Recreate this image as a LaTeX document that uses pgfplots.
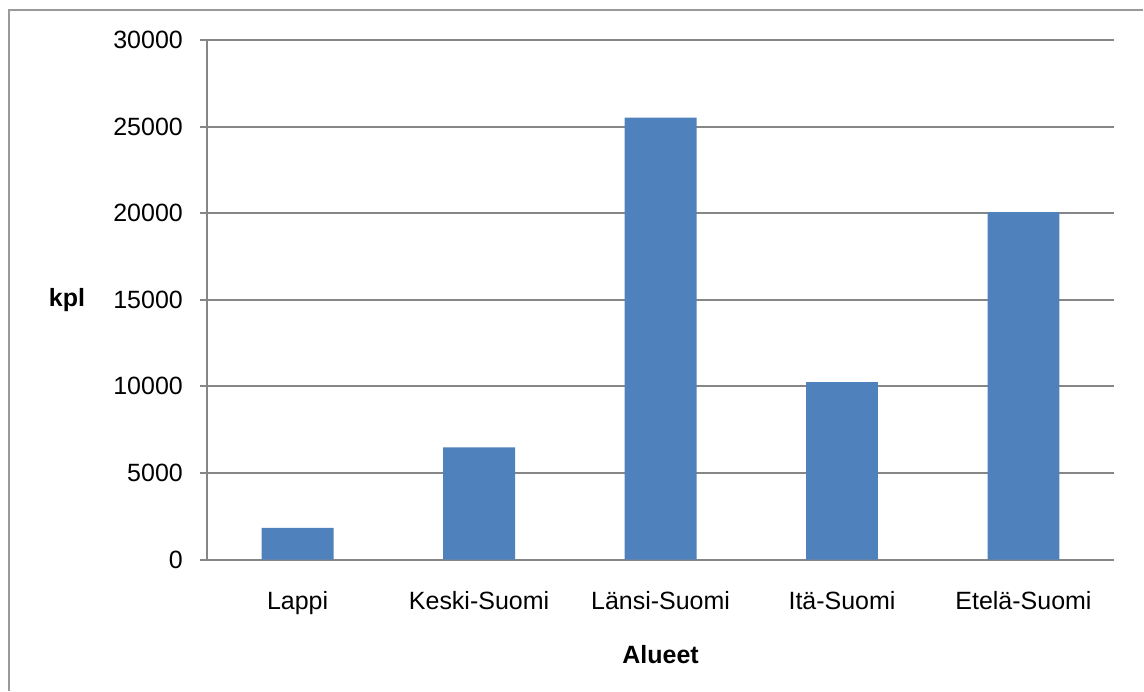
\documentclass[border=0pt]{standalone}
\usepackage{pgfplots}
\pgfplotsset{compat=1.18}
\usepackage{fontspec}
\setmainfont{Liberation Sans}
\definecolor{barblue}{HTML}{4F81BD}
\definecolor{gridgray}{HTML}{868686}
\definecolor{framegray}{HTML}{9A9A9A}
\begin{document}
\begin{tikzpicture}
% page extent and chart-area frame (left and top edges)
\path (0,0) rectangle (572pt,345.5pt);
\draw[framegray, line width=0.8pt] (4.5pt,0pt) -- (4.5pt,340.5pt) -- (572pt,340.5pt);
\begin{axis}[
  at={(103.5pt,65.5pt)}, anchor=south west,
  scale only axis, width=454pt, height=260pt,
  font=\fontsize{12.5}{15}\selectfont,
  scaled y ticks=false,
  /pgf/number format/assume math mode=true,
  /pgf/number format/set thousands separator={},
  /pgf/number format/fixed,
  ymin=0, ymax=30000, ytick={0,5000,...,30000},
  xmin=-0.5, xmax=4.5,
  xtick=data,
  xticklabels={Lappi,Keski-Suomi,Länsi-Suomi,Itä-Suomi,Etelä-Suomi},
  axis x line*=bottom, axis y line*=left,
  axis line style={gridgray, line width=1pt, -},
  x axis line style={shorten <=-3.5pt},
  ymajorgrids, grid style={gridgray, line width=1pt},
  major tick length=3.5pt,
  y tick style={gridgray, line width=1pt},
  ytick pos=left, tick align=outside,
  x tick style={draw=none},
  yticklabel style={anchor=east, xshift=-5pt},
  xticklabel style={anchor=north, yshift=-9pt},
  xlabel={\bfseries Alueet},
  ylabel={\bfseries kpl},
  xlabel style={at={(axis description cs:0.5,0)}, anchor=center, yshift=-47.5pt},
  ylabel style={at={(axis description cs:0,0.5)}, rotate=-90, anchor=center, xshift=-70pt},
  clip=false,
]
\addplot[ybar, bar width=36pt, fill=barblue, draw=none] coordinates {
  (0,1830) (1,6480) (2,25520) (3,10250) (4,20060)
};
\end{axis}
\end{tikzpicture}
\end{document}
